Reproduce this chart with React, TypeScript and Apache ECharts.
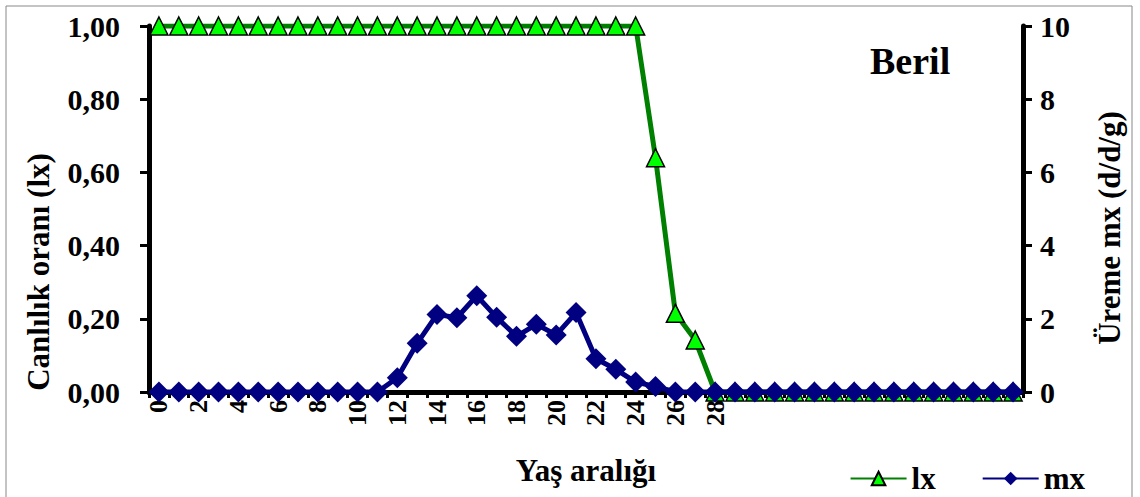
import React, { useEffect, useRef } from "react";
import * as echarts from "echarts";

const categories: string[] = Array.from({ length: 44 }, (_, i) => String(i));
const lxValues: number[] = [
  1, 1, 1, 1, 1, 1, 1, 1, 1, 1, 1, 1, 1, 1, 1, 1, 1, 1, 1, 1, 1, 1, 1, 1, 1,
  0.64, 0.215, 0.142, 0,
  0, 0, 0, 0, 0, 0, 0, 0, 0, 0, 0, 0, 0, 0, 0,
];
const mxValues: number[] = [
  0, 0, 0, 0, 0, 0, 0, 0, 0, 0, 0, 0,
  0.39, 1.33, 2.12, 2.03, 2.63, 2.04, 1.52, 1.85, 1.56, 2.17, 0.91, 0.62, 0.27, 0.15,
  0, 0, 0, 0, 0, 0, 0, 0, 0, 0, 0, 0, 0, 0, 0, 0, 0, 0,
];
const lastLabelled = 28;
const leftTitle = "Canlılık oranı (lx)";
const rightTitle = "Üreme mx (d/d/g)";
const xTitle = "Yaş aralığı";
const panelTitle = "Beril";

const FONT = "Liberation Serif";

export default function App() {
  const ref = useRef<HTMLDivElement>(null);
  useEffect(() => {
    document.body.style.margin = "0";
    const chart = echarts.init(ref.current!, null, { renderer: "svg" });
    const axisLabelStyle = {
      fontFamily: FONT,
      fontWeight: "bold" as const,
      color: "#000",
    };
    chart.setOption({
      animation: false,
      backgroundColor: "#fff",
      grid: { left: 149, right: 117, top: 26, bottom: 105 },
      graphic: [
        {
          type: "rect",
          shape: { x: 6, y: 6, width: 1126, height: 500 },
          style: { fill: "none", stroke: "#888", lineWidth: 1 },
          silent: true,
        },
        {
          type: "text",
          x: 870,
          y: 61,
          style: {
            text: panelTitle,
            font: `bold 38px ${FONT}`,
            fill: "#000",
            verticalAlign: "middle",
          },
        },
        {
          type: "text",
          x: 38,
          y: 272,
          rotation: Math.PI / 2,
          style: {
            text: leftTitle,
            font: `bold 31px ${FONT}`,
            fill: "#000",
            align: "center",
            verticalAlign: "middle",
          },
        },
        {
          type: "text",
          x: 1109,
          y: 228,
          rotation: Math.PI / 2,
          style: {
            text: rightTitle,
            font: `bold 31px ${FONT}`,
            fill: "#000",
            align: "center",
            verticalAlign: "middle",
          },
        },
      ],
      legend: {
        right: 50,
        top: 458,
        itemWidth: 56,
        itemHeight: 17,
        itemGap: 46,
        textStyle: { ...axisLabelStyle, fontSize: 31 },
        data: ["lx", "mx"],
      },
      xAxis: {
        type: "category",
        data: categories,
        boundaryGap: true,
        name: xTitle,
        nameLocation: "middle",
        nameGap: 63,
        nameTextStyle: { ...axisLabelStyle, fontSize: 31 },
        axisLine: { lineStyle: { color: "#000", width: 5 } },
        axisTick: { show: true, length: 6, lineStyle: { color: "#000", width: 3 }, interval: 0 },
        axisLabel: {
          ...axisLabelStyle,
          fontSize: 26,
          rotate: 90,
          interval: 0,
          margin: 8,
          formatter: (v: string) => {
            const n = Number(v);
            return n % 2 === 0 && n <= lastLabelled ? v : "";
          },
        },
        splitLine: { show: false },
      },
      yAxis: [
        {
          type: "value",
          min: 0,
          max: 1,
          interval: 0.2,
          axisLine: { show: true, lineStyle: { color: "#000", width: 5 } },
          axisTick: { show: true, length: 9, lineStyle: { color: "#000", width: 3 } },
          axisLabel: {
            ...axisLabelStyle,
            fontSize: 30,
            margin: 29,
            formatter: (v: number) => v.toFixed(2).replace(".", ","),
          },
          splitLine: { show: false },
        },
        {
          type: "value",
          min: 0,
          max: 10,
          interval: 2,
          position: "right",
          axisLine: { show: true, lineStyle: { color: "#000", width: 5 } },
          axisTick: { show: true, length: 9, lineStyle: { color: "#000", width: 3 } },
          axisLabel: { ...axisLabelStyle, fontSize: 30, margin: 17 },
          splitLine: { show: false },
        },
      ],
      series: [
        {
          name: "lx",
          type: "line",
          yAxisIndex: 0,
          data: lxValues,
          symbol: "triangle",
          symbolSize: 18,
          lineStyle: { color: "#008000", width: 5 },
          itemStyle: { color: "#00FF00", borderColor: "#000", borderWidth: 1.5 },
          z: 2,
        },
        {
          name: "mx",
          type: "line",
          yAxisIndex: 1,
          data: mxValues,
          symbol: "diamond",
          symbolSize: 21,
          lineStyle: { color: "#000080", width: 5 },
          itemStyle: { color: "#000080", borderWidth: 0 },
          z: 3,
        },
      ],
    });
    return () => chart.dispose();
  }, []);
  return <div ref={ref} style={{ width: 1140, height: 497 }} />;
}
